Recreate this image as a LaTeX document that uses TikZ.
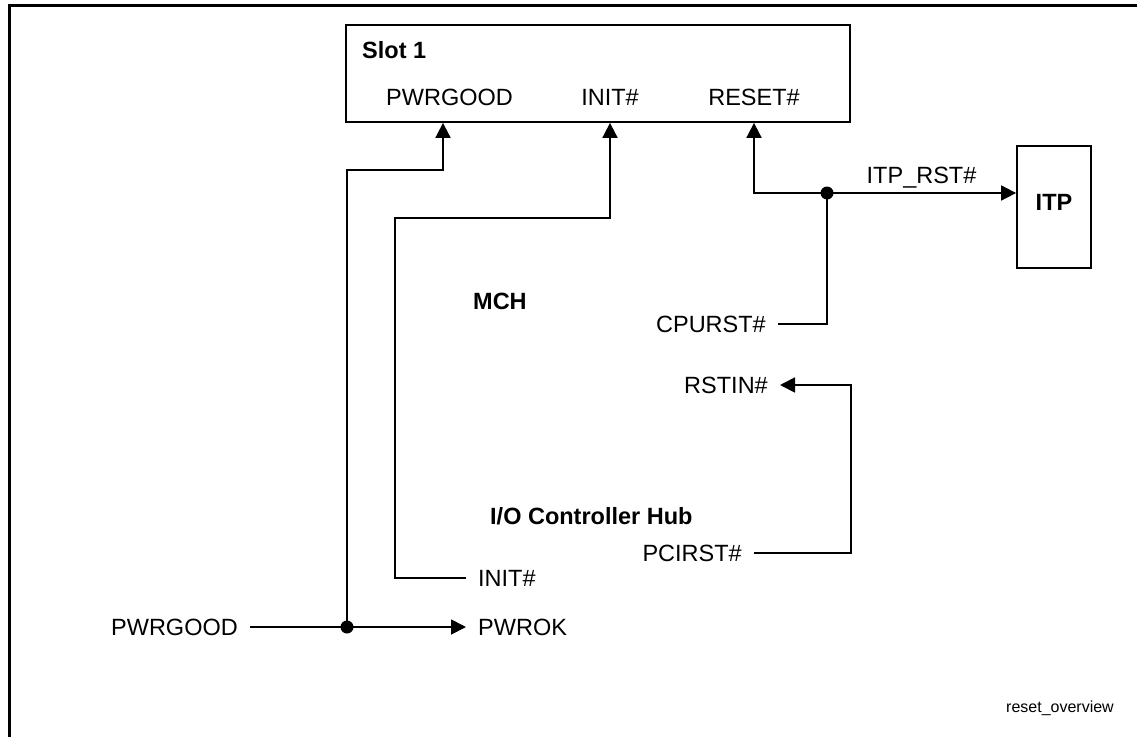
\documentclass[tikz,border=0pt]{standalone}
\usepackage{fontspec}
\setmainfont{Liberation Sans}
\usepackage{tikz}
\usetikzlibrary{positioning,arrows.meta}
\newcommand{\sigfont}{\fontsize{23.5}{28}\selectfont}
\newcommand{\tagfont}{\fontsize{16}{19}\selectfont}
\tikzset{
  box/.style    ={draw, rectangle, line width=1.8pt, inner sep=0pt},
  sig/.style    ={font=\sigfont, text height=17pt, text depth=0pt, inner xsep=12pt, inner ysep=0pt},
  hub/.style    ={font=\sigfont\bfseries, text height=17pt, text depth=0pt, inner sep=0pt},
  wire/.style   ={line width=1.8pt},
  arr/.style    ={-{Triangle[length=15pt,width=15pt]}, line width=1.8pt},
  frame/.style  ={line width=3pt},
}

\begin{document}
\begin{tikzpicture}[x=1pt, y=-1pt]
  \clip (0,0) rectangle (1137,736);
  \useasboundingbox (0,0) rectangle (1137,736);
  \draw[frame] (9.5,5.3) rectangle (1150,750);

  \node[box, minimum width=504pt, minimum height=97pt] (slot) at (598,73.5) {};
  \node[hub, anchor=west] (slotname) at (362,50) {Slot 1};
  \node[sig] (slotpg) at (449.5,97) {PWRGOOD};
  \node[sig] (slotinit) at (610,97) {INIT\#};
  \node[sig] (slotrst) at (754,97) {RESET\#};

  \node[box, hub, minimum width=74pt, minimum height=122pt, text depth=10pt] (itp) at (1054,207) {ITP};

  \node[hub, anchor=west] (mch) at (473,300.5) {MCH};
  \node[hub, anchor=west] (ich) at (490,516) {I/O Controller Hub};

  \node[sig, anchor=east] (cpurst) at (778,324) {CPURST\#};
  \node[sig, anchor=east] (rstin) at (780,385) {RSTIN\#};
  \node[sig, anchor=east] (pcirst) at (754,553) {PCIRST\#};
  \node[sig, anchor=west] (ichinit) at (466,578) {INIT\#};
  \node[sig, anchor=west] (pwrok) at (466,627) {PWROK};
  \node[sig, anchor=east] (pgin) at (250,627) {PWRGOOD};

  \coordinate (j1) at (347,627);
  \coordinate (j2) at (827,193);
  \coordinate (pgup) at (443,170);
  \coordinate (initleft) at (395,218);
  \coordinate (initup) at (610,218);
  \coordinate (pcibend) at (851,553);

  % power good
  \draw[wire] (pgin.east) -- (j1);
  \draw[arr] (j1) -- (pwrok.west);
  \draw[arr] (j1) |- (pgup) -- (pgup |- slot.south);
  % init
  \draw[arr] (ichinit.west) -| (initleft) -- (initup) -- (initup |- slot.south);
  % cpu reset
  \draw[wire] (cpurst.east) -| (j2);
  \draw[arr] (j2) -| (slotrst |- slot.south);
  \draw[arr] (j2) -- (j2 -| itp.west) node[sig, midway, above=9pt] (itprst) {ITP\_RST\#};
  % pci reset
  \draw[arr] (pcirst.east) -- (pcibend) |- (rstin.east);

  \fill (j1) circle (6.5);
  \fill (j2) circle (6.5);

  \node[font=\tagfont] (tag) at (1060,708) {reset\_overview};
\end{tikzpicture}
\end{document}
